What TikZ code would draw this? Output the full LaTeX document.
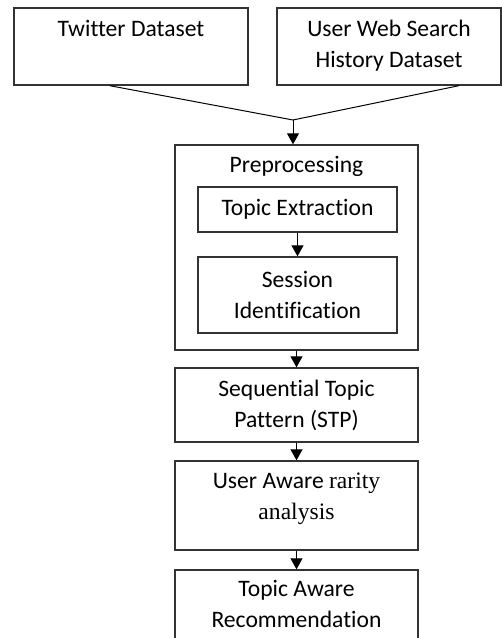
\documentclass[tikz,border=0pt]{standalone}
\usepackage{fontspec}
\setmainfont{Carlito}[Ligatures=NoCommon]
\newfontfamily\timesfont{Liberation Serif}
\usetikzlibrary{arrows.meta, calc}

\begin{document}
\begin{tikzpicture}[
    x=0.5pt, y=-0.5pt,
    box/.style={draw=black!80, line width=0.7pt, align=center, inner sep=0pt,
      font=\fontsize{11.8}{15.5}\selectfont},
    txt/.style={align=center, inner sep=0pt, anchor=base,
      font=\fontsize{11.8}{15.5}\selectfont},
    fl/.style={-{Triangle[width=6pt, length=5.5pt]}, line width=0.5pt},
    ln/.style={line width=0.5pt}
  ]
  \useasboundingbox (0,0) rectangle (502,638);

  % --- datasets ---
  \node[box, minimum width=117pt, minimum height=38.5pt] (tw) at (131,46.5) {};
  \node[txt] at ([yshift=-14.5pt]tw.north) {Twitter Dataset};
  \node[box, minimum width=112pt, minimum height=38.5pt] (uw) at (389,46.5) {};
  \node[txt] at ([yshift=-30pt]uw.north) {User Web Search\\History Dataset};

  % --- preprocessing ---
  \node[box, minimum width=121.5pt, minimum height=102.5pt] (pre) at (296.5,247.5) {};
  \node[txt] at ([yshift=-14pt]pre.north) {Preprocessing};
  \node[box, minimum width=99.5pt, minimum height=22.5pt] (te) at (297.5,209.5) {Topic Extraction};
  \node[box, minimum width=99.5pt, minimum height=38pt] (si) at (297.5,295) {Session\\Identification};

  % --- remaining steps ---
  \node[box, minimum width=121.5pt, minimum height=37pt] (stp) at (296.5,405) {Sequential Topic\\Pattern (STP)};
  \node[box, minimum width=121.5pt, minimum height=44.5pt] (ua) at (296.5,505.5) {};
  \node[txt] at ([yshift=-29.5pt]ua.north) {User Aware {\timesfont rarity}\\{\timesfont analysis}};
  \node[box, minimum width=121.5pt, minimum height=45pt] (ta) at (296.5,615) {};
  \node[txt] at ([yshift=-29pt]ta.north) {Topic Aware\\Recommendation};

  % --- connectors ---
  \coordinate (m) at (293,120);
  \draw[ln] ($(tw.south west)!0.41!(tw.south east)$) -- (m);
  \draw[ln] ($(uw.south west)!0.81!(uw.south east)$) -- (m);
  \draw[fl] (m) -- (m |- pre.north);
  \draw[fl] (te) -- (si);
  \draw[fl] (pre) -- (stp);
  \draw[fl] (stp) -- (ua);
  \draw[fl] (ua) -- (ta);
\end{tikzpicture}
\end{document}
